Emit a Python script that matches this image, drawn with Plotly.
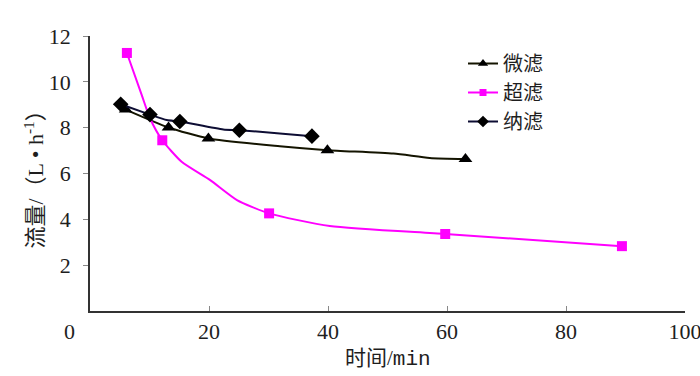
import plotly.graph_objects as go

# 微滤 (microfiltration)
mf_x = [6.0, 13.2, 19.9, 31.9, 39.9, 51.0, 57.1, 63.1]
mf_y = [8.79, 8.01, 7.53, 7.19, 7.02, 6.87, 6.68, 6.63]
mf_mx = [6.0, 13.2, 19.9, 39.9, 63.1]
mf_my = [8.79, 8.01, 7.53, 7.02, 6.63]

# 超滤 (ultrafiltration)
uf_x = [6.2, 8.7, 10.1, 12.15, 15.4, 20.2, 24.7, 30.1, 40.3, 59.7, 89.4]
uf_y = [11.26, 9.42, 8.40, 7.45, 6.51, 5.71, 4.84, 4.26, 3.71, 3.36, 2.83]
uf_mx = [6.2, 12.15, 30.1, 59.7, 89.4]
uf_my = [11.26, 7.45, 4.26, 3.36, 2.83]

# 纳滤 (nanofiltration)
nf_x = [5.16, 10.08, 12.9, 15.1, 22.4, 25.1, 31.9, 37.3]
nf_y = [9.02, 8.57, 8.33, 8.27, 7.92, 7.89, 7.75, 7.63]
nf_mx = [5.16, 10.08, 15.1, 25.1, 37.3]
nf_my = [9.02, 8.57, 8.27, 7.89, 7.63]

x_ticks = [0, 20, 40, 60, 80, 100]
y_ticks = [0, 2, 4, 6, 8, 10, 12]

FONT = "Liberation Serif, Times New Roman, Noto Sans CJK SC"
TXT = "#1e1e1e"

series = [
    ("微滤", mf_x, mf_y, mf_mx, mf_my, "#141400", "#000000", "triangle-up", 12),
    ("超滤", uf_x, uf_y, uf_mx, uf_my, "#ff00ff", "#ff00ff", "square", 10),
    ("纳滤", nf_x, nf_y, nf_mx, nf_my, "#0d0d33", "#000000", "diamond", 12),
]

fig = go.Figure()
for name, lx, ly, mx, my, lc, mc, sym, sz in series:
    fig.add_trace(go.Scatter(
        x=lx, y=ly, mode="lines", name=name, legendgroup=name, showlegend=False,
        line=dict(color=lc, width=2, shape="spline", smoothing=0.6),
        hoverinfo="skip"))
    fig.add_trace(go.Scatter(
        x=mx, y=my, mode="markers", name=name, legendgroup=name, showlegend=False,
        marker=dict(symbol=sym, size=sz, color=mc, line=dict(width=0))))
    fig.add_trace(go.Scatter(
        x=[None], y=[None], mode="lines+markers", name=name, legendgroup=name,
        line=dict(color=lc, width=2),
        marker=dict(symbol=sym, size=sz - 3, color=mc, line=dict(width=0))))

L, R, T, B = 90, 15, 36, 65
plot_w, plot_h = 700 - L - R, 376 - T - B


def px(xpix):
    return (xpix - L) / plot_w


def py(ypix):
    return (376 - B - ypix) / plot_h


fig.update_layout(
    width=700, height=376,
    margin=dict(l=L, r=R, t=T, b=B, autoexpand=False),
    paper_bgcolor="white", plot_bgcolor="white",
    font=dict(family=FONT, size=22, color=TXT),
    showlegend=True,
    legend=dict(x=px(463), y=py(44), xanchor="left", yanchor="top",
                font=dict(size=20, family=FONT, color=TXT),
                bgcolor="rgba(0,0,0,0)", tracegroupgap=0, itemwidth=30),
    xaxis=dict(range=[0, 100], tickvals=x_ticks[1:], automargin=False,
               showgrid=False, zeroline=False, showline=True, linecolor="#333333",
               linewidth=1.5, ticks="inside", ticklen=5, tickcolor="#888888",
               ticklabeloverflow="allow",
               tickfont=dict(size=22, family=FONT, color=TXT)),
    yaxis=dict(range=[0, 12], tickvals=y_ticks[1:], automargin=False,
               showgrid=False, zeroline=False,
               showline=True, linecolor="#333333", linewidth=1.5, ticks="outside",
               ticklen=5, tickcolor="#888888", ticklabelstandoff=8,
               tickfont=dict(size=22, family=FONT, color=TXT)),
    annotations=[
        dict(text=str(x_ticks[0]), x=px(69), y=py(331), xref="paper", yref="paper",
             showarrow=False, xanchor="center", yanchor="middle",
             font=dict(size=22, family=FONT, color=TXT)),
        dict(text="时间/<span style='font-family:Liberation Mono'>min</span>",
             x=0.5, y=py(358), xref="paper", yref="paper", showarrow=False,
             xanchor="center", yanchor="middle",
             font=dict(size=21, family=FONT, color=TXT)),
        dict(text="流量/（L • h<sup>-1</sup>）", textangle=-90,
             x=px(33), y=0.5, xref="paper", yref="paper", showarrow=False,
             xanchor="center", yanchor="middle",
             font=dict(size=22, family=FONT, color=TXT)),
    ],
)

fig.write_html("out.html", config={"displayModeBar": False},
               post_script="document.body.style.margin='0';")
